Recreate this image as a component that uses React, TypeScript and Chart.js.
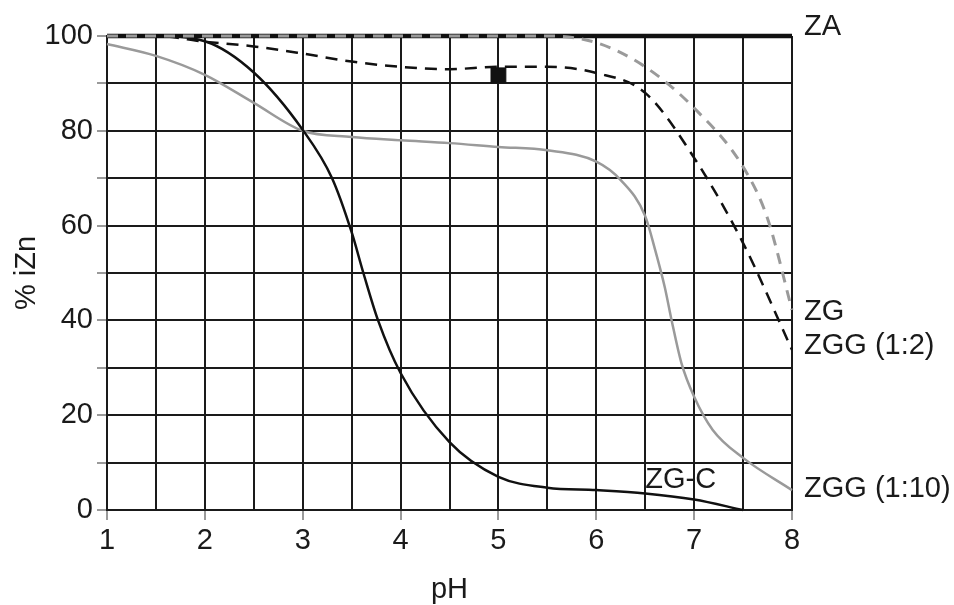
import { useEffect, useRef } from 'react';
import { Chart, registerables } from 'chart.js';

Chart.register(...registerables);

// ---- data ----
const zaX = [1, 8];
const zaY = [100, 100];

const zgX = [1, 2, 3, 4, 5, 5.5, 6, 6.5, 7, 7.5, 7.75, 8];
const zgY = [100, 100, 100, 100, 100, 100, 98.6, 93.5, 84.8, 72.4, 61.5, 42.2];

const zgg2X = [1, 1.5, 2, 2.5, 3, 3.5, 4, 4.5, 5, 5.5, 6, 6.5, 7, 7.5, 8];
const zgg2Y = [100, 100, 98.8, 97.8, 96.3, 94.6, 93.5, 93, 93.5, 93.5, 92.2, 88, 74.3, 56.3, 33.8];

const zgcX = [1, 1.5, 2, 2.5, 3, 3.3, 3.5, 3.62, 3.77, 4, 4.5, 5, 5.5, 6, 6.5, 7, 7.5];
const zgcY = [100, 100, 98.9, 92.3, 80.2, 70, 58.6, 50, 40, 28.9, 14.3, 7, 4.7, 4.2, 3.5, 2.2, 0];

const zgg10X = [1, 1.5, 2, 2.5, 3, 3.5, 4, 4.5, 5, 5.5, 6, 6.25, 6.5, 6.6, 6.7, 6.77, 6.87, 7, 7.19, 7.5, 8];
const zgg10Y = [98.3, 95.8, 91.8, 85.9, 80, 78.7, 78, 77.4, 76.6, 75.9, 73.5, 69.6, 62, 55, 47, 40, 31, 23.9, 16.9, 11, 4.2];

const markerX = [5];
const markerY = [91.7];

const endLabels = ['ZA', 'ZG', 'ZGG (1:2)', 'ZGG (1:10)'];
const endLabelY = [101.9, 41.8, 34.6, 4.5];
const inLabel = 'ZG-C';
const inLabelX = 6.5;
const inLabelY = 6.3;

const xMin = 1;
const xMax = 8;
const xStep = 0.5;
const yMin = 0;
const yMax = 100;
const yStep = 10;
const yLabelStep = 20;
const xTitle = 'pH';
const yTitle = '% iZn';

const FONT_FAMILY = '"Liberation Sans", Arial, sans-serif';
const FONT_SIZE = 29;
const TEXT = '#1a1a1a';
const GRID = '#1a1a1a';
const GRAY = '#9a9a9a';

const pts = (xs: number[], ys: number[]) => xs.map((x, i) => ({ x, y: ys[i] }));

const labelPlugin = {
  id: 'curveLabels',
  afterDatasetsDraw(chart: any) {
    const { ctx, chartArea, scales } = chart;
    const x = scales.x;
    const y = scales.y;
    ctx.save();
    ctx.font = `${FONT_SIZE}px ${FONT_FAMILY}`;
    ctx.fillStyle = TEXT;
    ctx.textBaseline = 'middle';
    ctx.textAlign = 'left';
    endLabels.forEach((t, i) => {
      ctx.fillText(t, chartArea.right + 12, y.getPixelForValue(endLabelY[i]));
    });
    ctx.fillText(inLabel, x.getPixelForValue(inLabelX), y.getPixelForValue(inLabelY));
    ctx.restore();
  },
};

export default function App() {
  const ref = useRef<HTMLCanvasElement | null>(null);

  useEffect(() => {
    if (!ref.current) return;
    const font = { family: FONT_FAMILY, size: FONT_SIZE };
    const titleFont = { family: FONT_FAMILY, size: FONT_SIZE, lineHeight: 1 };
    const common = {
      pointRadius: 0,
      pointHoverRadius: 0,
      cubicInterpolationMode: 'monotone' as const,
      clip: false as any,
      fill: false,
    };
    const chart = new Chart(ref.current, {
      type: 'line',
      data: {
        datasets: [
          {
            label: 'marker',
            data: pts(markerX, markerY),
            showLine: false,
            pointStyle: 'rect',
            pointRadius: 10.5,
            pointHoverRadius: 10.5,
            pointBackgroundColor: '#111',
            pointBorderColor: '#111',
            pointBorderWidth: 1,
            clip: false as any,
          } as any,
          {
            label: 'ZG',
            data: pts(zgX, zgY),
            borderColor: GRAY,
            borderWidth: 3,
            borderDash: [11, 8],
            ...common,
          },
          {
            label: 'ZGG (1:2)',
            data: pts(zgg2X, zgg2Y),
            borderColor: '#111',
            borderWidth: 2.5,
            borderDash: [12, 8],
            ...common,
          },
          {
            label: 'ZG-C',
            data: pts(zgcX, zgcY),
            borderColor: '#111',
            borderWidth: 2.5,
            ...common,
          },
          {
            label: 'ZGG (1:10)',
            data: pts(zgg10X, zgg10Y),
            borderColor: GRAY,
            borderWidth: 2.5,
            ...common,
          },
          {
            label: 'ZA',
            data: pts(zaX, zaY),
            borderColor: '#111',
            borderWidth: 4.5,
            tension: 0,
            pointRadius: 0,
            clip: false as any,
          },
        ],
      },
      options: {
        animation: false,
        responsive: true,
        maintainAspectRatio: false,
        layout: { padding: { top: 36, right: 162, left: 0, bottom: 0 } },
        plugins: {
          legend: { display: false },
          tooltip: { enabled: false },
        },
        events: [],
        scales: {
          x: {
            type: 'linear',
            min: xMin,
            max: xMax,
            afterFit: (s: any) => {
              s.height = 95;
            },
            ticks: {
              stepSize: xStep,
              autoSkip: false,
              maxRotation: 0,
              padding: 4,
              color: TEXT,
              font,
              callback: (v: any) => (Number.isInteger(v) ? String(v) : ''),
            },
            grid: {
              color: GRID,
              lineWidth: 2,
              tickLength: 10,
              tickWidth: 2,
              tickColor: (c: any) =>
                c.tick && Number.isInteger(c.tick.value) ? GRAY : 'rgba(0,0,0,0)',
            },
            border: { color: GRID, width: 2 },
            title: {
              display: true,
              text: xTitle,
              color: TEXT,
              font: titleFont,
              padding: { top: 0, bottom: 0.5 },
            },
          },
          y: {
            type: 'linear',
            min: yMin,
            max: yMax,
            afterFit: (s: any) => {
              s.width = 107;
            },
            ticks: {
              stepSize: yStep,
              padding: 4,
              color: TEXT,
              font,
              callback: (v: any) => (v % yLabelStep === 0 ? String(v) : ''),
            },
            grid: {
              color: GRID,
              lineWidth: 2,
              tickLength: 10,
              tickWidth: 2,
              tickColor: GRAY,
            },
            border: { color: GRID, width: 2 },
            title: {
              display: true,
              text: yTitle,
              color: TEXT,
              font: titleFont,
              padding: { top: 12.5, bottom: 0 },
            },
          },
        },
      },
      plugins: [labelPlugin],
    });
    return () => chart.destroy();
  }, []);

  return (
    <div style={{ position: 'absolute', left: 0, top: 0, width: 954, height: 605, background: '#fff' }}>
      <canvas ref={ref} />
    </div>
  );
}
